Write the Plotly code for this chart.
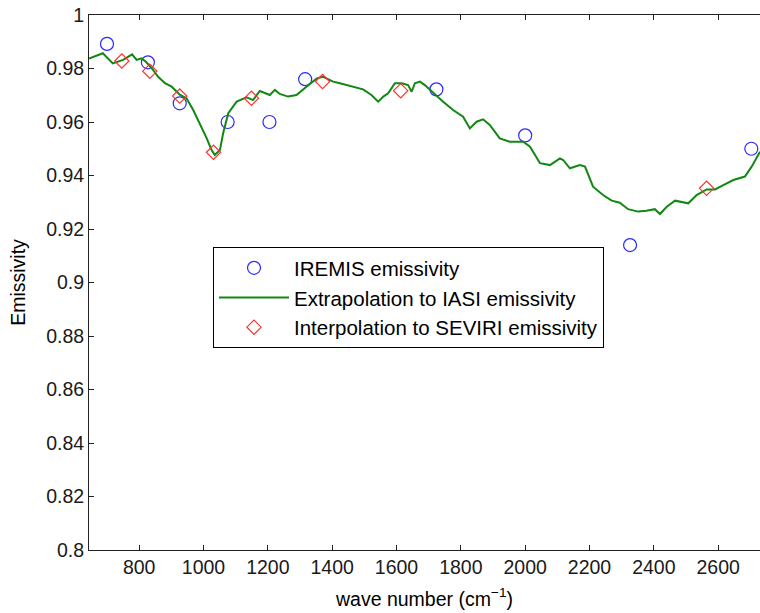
import plotly.graph_objects as go

# IREMIS emissivity (wave number cm^-1, emissivity)
iremis_wn = [700, 827, 926, 1075, 1205, 1316, 1724, 2000, 2326, 2703]
iremis_em = [0.9892, 0.9823, 0.9670, 0.9600, 0.9600, 0.9760, 0.9722, 0.9550, 0.9140, 0.9500]

# SEVIRI interpolated emissivity
seviri_wn = [746, 833, 926, 1031, 1149, 1370, 1613, 2564]
seviri_em = [0.9828, 0.9790, 0.9697, 0.9487, 0.9689, 0.9751, 0.9717, 0.9352]

# IASI extrapolated emissivity (green curve)
iasi_wn = [644, 687, 718, 750, 778, 792, 807, 821, 839, 859, 880, 901, 927, 947, 968,
           989, 1010, 1025, 1035, 1051, 1061, 1077, 1103, 1134, 1154, 1175, 1191, 1206,
           1222, 1237, 1263, 1289, 1320, 1352, 1372, 1403, 1424, 1465, 1496, 1522, 1543,
           1559, 1574, 1595, 1616, 1636, 1647, 1657, 1673, 1688, 1704, 1725, 1745, 1776,
           1807, 1828, 1849, 1869, 1890, 1921, 1952, 1994, 2015, 2046, 2077, 2108, 2118,
           2139, 2170, 2186, 2211, 2242, 2269, 2294, 2320, 2351, 2377, 2403, 2419, 2440,
           2466, 2507, 2533, 2564, 2590, 2616, 2647, 2683, 2704, 2730]
iasi_em = [0.9837, 0.9857, 0.9819, 0.9832, 0.9853, 0.9832, 0.9838, 0.9825, 0.9801,
           0.9769, 0.9745, 0.9732, 0.9701, 0.9689, 0.9645, 0.9595, 0.9539, 0.9495,
           0.9477, 0.9495, 0.9558, 0.9633, 0.9676, 0.9692, 0.9682, 0.9716, 0.9707,
           0.9701, 0.9720, 0.9705, 0.9695, 0.9701, 0.9732, 0.9763, 0.9769, 0.9751,
           0.9745, 0.9732, 0.9722, 0.9701, 0.9676, 0.9695, 0.9707, 0.9745, 0.9745,
           0.9738, 0.9713, 0.9745, 0.9751, 0.9738, 0.9720, 0.9695, 0.9676, 0.9645,
           0.9620, 0.9576, 0.9601, 0.9610, 0.9589, 0.9539, 0.9526, 0.9526, 0.9508,
           0.9446, 0.9439, 0.9464, 0.9458, 0.9427, 0.9439, 0.9433, 0.9358, 0.9327,
           0.9306, 0.9298, 0.9274, 0.9265, 0.9268, 0.9274, 0.9256, 0.9283, 0.9306,
           0.9296, 0.9327, 0.9348, 0.9348, 0.9364, 0.9383, 0.9396, 0.9433, 0.9489]

x_ticks = [800, 1000, 1200, 1400, 1600, 1800, 2000, 2200, 2400, 2600]
y_ticks = [0.8, 0.82, 0.84, 0.86, 0.88, 0.9, 0.92, 0.94, 0.96, 0.98, 1]
y_tick_text = ["0.8", "0.82", "0.84", "0.86", "0.88", "0.9", "0.92", "0.94", "0.96", "0.98", "1"]

FONT = "Liberation Sans, Arial, sans-serif"

fig = go.Figure()
fig.add_trace(go.Scatter(
    x=iremis_wn, y=iremis_em, mode="markers", name="IREMIS emissivity",
    legendgroup="a",
    marker=dict(symbol="circle-open", size=13, color="#2a2aff", line=dict(width=1.2)),
))
fig.add_trace(go.Scatter(
    x=iasi_wn, y=iasi_em, mode="lines", name="Extrapolation to IASI emissivity",
    legendgroup="b",
    line=dict(color="#118811", width=2),
))
fig.add_trace(go.Scatter(
    x=seviri_wn, y=seviri_em, mode="markers", name="Interpolation to SEVIRI emissivity",
    legendgroup="c",
    marker=dict(symbol="diamond-open", size=11, color="#ff3030", line=dict(width=1.2)),
))

fig.update_layout(
    width=760, height=613,
    margin=dict(l=89, r=0, t=15, b=63),
    paper_bgcolor="white", plot_bgcolor="white",
    font=dict(family=FONT, size=19.5, color="black"),
    showlegend=True,
    legend=dict(
        x=0.1848, y=0.5663, xanchor="left", yanchor="top",
        bgcolor="white", bordercolor="black", borderwidth=1,
        font=dict(family=FONT, size=20.5, color="black"),
        itemwidth=70, tracegroupgap=0, traceorder="grouped",
    ),
    xaxis=dict(
        range=[644, 2730], tickmode="array", tickvals=x_ticks, automargin=False,
        ticks="inside", ticklen=5, tickcolor="#222", showline=True,
        linecolor="#222", linewidth=1, mirror="ticks", showgrid=False, zeroline=False,
        tickfont=dict(family=FONT, size=19.5, color="#1a1a1a"),
        title=dict(text="wave number (cm<sup>−1</sup>)", standoff=14,
                   font=dict(family=FONT, size=19.5, color="black")),
    ),
    yaxis=dict(
        range=[0.8, 1.0], tickmode="array", tickvals=y_ticks, ticktext=y_tick_text,
        automargin=False, ticklabeloverflow="allow",
        ticks="inside", ticklen=5, tickcolor="#222", showline=True,
        linecolor="#222", linewidth=1, mirror=False, showgrid=False, zeroline=False,
        tickfont=dict(family=FONT, size=19.5, color="#1a1a1a"),
        title=dict(text="Emissivity", standoff=15,
                   font=dict(family=FONT, size=19.5, color="black")),
    ),
)

# remove the default 8px page margin so the figure fills the window exactly
fig.write_html("out.html", config={"displayModeBar": False},
               post_script="document.body.style.margin='0';")
